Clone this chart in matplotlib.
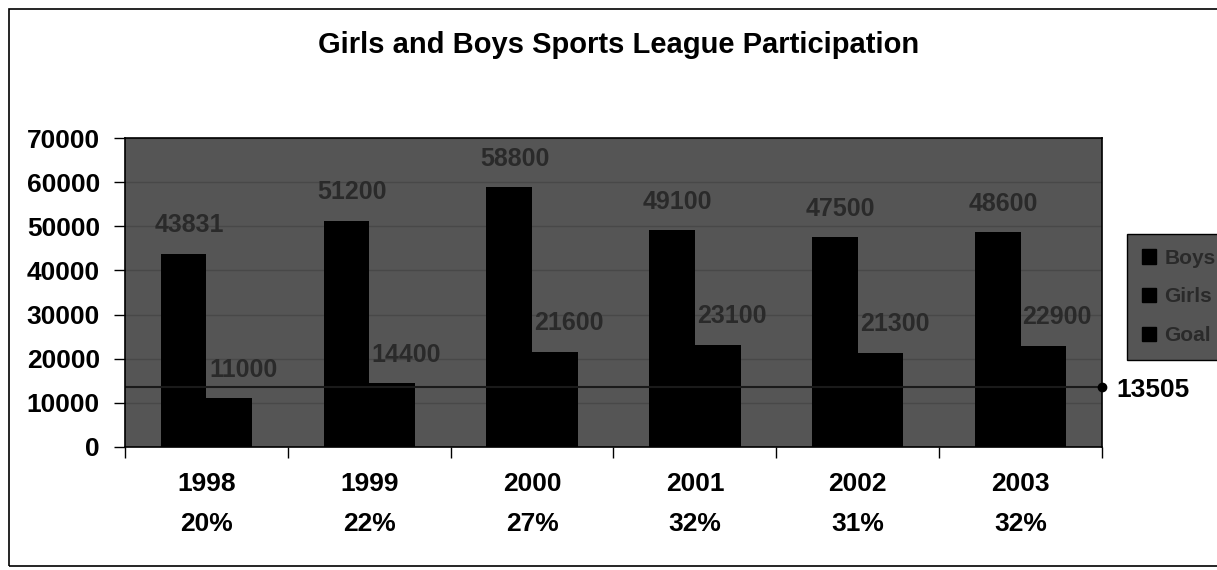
import matplotlib.pyplot as plt
from matplotlib.patches import Patch, Rectangle

plt.rcParams['font.family'] = ['Liberation Sans', 'DejaVu Sans']
plt.rcParams['font.weight'] = 'bold'

years = ['1998', '1999', '2000', '2001', '2002', '2003']
girl_share = ['20%', '22%', '27%', '32%', '31%', '32%']
boys = [43831, 51200, 58800, 49100, 47500, 48600]
girls = [11000, 14400, 21600, 23100, 21300, 22900]
goal = 13505

bg = '#555555'
label_col = '#2a2a2a'

fig = plt.figure(figsize=(12.17, 5.70), dpi=100)
ax = fig.add_axes([125 / 1217, 1 - 447 / 570, (1102 - 125) / 1217, (447 - 138) / 570])
ax.set_facecolor(bg)

x = list(range(len(years)))
w = 0.28
ax.set_axisbelow(True)
ax.yaxis.grid(True, color='#484848', lw=1)
ax.bar([i - w / 2 for i in x], boys, width=w, color='black')
ax.bar([i + w / 2 for i in x], girls, width=w, color='black')

# data labels, dark on dark like the scan
for i in x:
    ax.annotate(f'{boys[i]}', (i - w / 2, boys[i]), xytext=(4, 12),
                textcoords='offset points', ha='center', va='bottom',
                fontsize=18, color=label_col)
    ax.annotate(f'{girls[i]}', (i + w / 2, girls[i]), xytext=(10, 12),
                textcoords='offset points', ha='center', va='bottom',
                fontsize=18, color=label_col)

# goal line
ax.axhline(goal, color='#1a1a1a', lw=1.5)
ax.plot([5.5], [goal], 'o', color='black', ms=6, clip_on=False)
ax.annotate(f'{goal}', (5.5, goal), xytext=(10, -2), textcoords='offset points',
            ha='left', va='center', fontsize=19, fontweight='bold',
            annotation_clip=False)

ax.set_xlim(-0.5, 5.5)
ax.set_ylim(0, 70000)
ax.set_yticks(range(0, 70001, 10000))
ax.tick_params(axis='y', length=8, width=1, pad=10, labelsize=19)

ax.set_xticks([i - 0.5 for i in range(len(years) + 1)])
ax.set_xticklabels([])
ax.tick_params(axis='x', which='major', length=8, width=1, direction='out')
ax.set_xticks(x, minor=True)
ax.set_xticklabels([f'{y}\n{p}' for y, p in zip(years, girl_share)], minor=True)
ax.tick_params(axis='x', which='minor', length=0, pad=18, labelsize=19)
for lbl in ax.get_xticklabels(minor=True):
    lbl.set_linespacing(1.85)

for s in ax.spines.values():
    s.set_color('black')
    s.set_linewidth(1.2)

fig.text(619 / 1217, 1 - 45 / 570, 'Girls and Boys Sports League Participation',
         ha='center', va='center', fontsize=21, fontweight='bold')

handles = [Patch(facecolor='black', edgecolor='black') for _ in range(3)]
leg = fig.legend(handles, ['Boys', 'Girls', 'Goal'], loc='upper left',
                 bbox_to_anchor=(1127 / 1217, 1 - 234 / 570),
                 bbox_transform=fig.transFigure, fontsize=15, frameon=True,
                 fancybox=False, borderaxespad=0, borderpad=0.7,
                 handlelength=0.7, handletextpad=0.4, labelspacing=0.95)
leg.get_frame().set_facecolor(bg)
leg.get_frame().set_edgecolor('black')
leg.get_frame().set_alpha(1)
for t in leg.get_texts():
    t.set_color(label_col)

fig.add_artist(Rectangle((9 / 1217, 4 / 570), 1.2, 1 - 13 / 570,
                         transform=fig.transFigure, fill=False,
                         edgecolor='black', lw=1.2))

fig.savefig('out.png', dpi=100)
